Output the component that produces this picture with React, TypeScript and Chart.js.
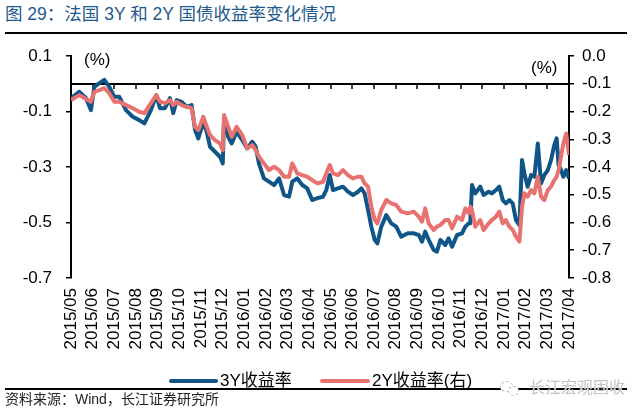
import React, { useEffect, useRef } from "react";
import { Chart, registerables } from "chart.js";

Chart.register(...registerables);

// Month tick labels (x axis)
const monthLabels = [
  "2015/05", "2015/06", "2015/07", "2015/08", "2015/09", "2015/10",
  "2015/11", "2015/12", "2016/01", "2016/02", "2016/03", "2016/04",
  "2016/05", "2016/06", "2016/07", "2016/08", "2016/09", "2016/10",
  "2016/11", "2016/12", "2017/01", "2017/02", "2017/03", "2017/04",
];

// Observation time, in months since 2015/05
const monthPos = [
  0, 0.38, 0.54, 0.69, 0.92, 1.08, 1.31, 1.54, 1.77, 2.0,
  2.23, 2.54, 2.85, 3.15, 3.39, 3.69, 3.94, 4.11, 4.34, 4.57,
  4.72, 4.88, 5.11, 5.34, 5.57, 5.73, 5.88, 6.11, 6.27, 6.42,
  6.65, 6.88, 7.01, 7.07, 7.26, 7.42, 7.65, 7.91, 8.14, 8.37,
  8.53, 8.68, 8.91, 9.14, 9.38, 9.61, 9.84, 10.07, 10.22, 10.45,
  10.68, 10.91, 11.14, 11.38, 11.64, 11.79, 11.95, 12.1, 12.33, 12.56,
  12.79, 13.02, 13.26, 13.41, 13.56, 13.72, 13.87, 14.03, 14.15, 14.33,
  14.56, 14.79, 15.02, 15.25, 15.56, 15.83, 16.06, 16.21, 16.36, 16.52,
  16.75, 16.9, 17.06, 17.29, 17.44, 17.6, 17.83, 18.06, 18.21, 18.37,
  18.44, 18.52, 18.67, 18.9, 19.06, 19.29, 19.44, 19.63, 19.78, 19.94,
  20.09, 20.24, 20.4, 20.55, 20.71, 20.83, 20.94, 21.09, 21.25, 21.4,
  21.56, 21.71, 21.86, 22.02, 22.17, 22.32, 22.43, 22.52, 22.63, 22.74,
  22.87, 22.94, 23.0,
];

// France 3Y government bond yield (%), left axis
const yield3Y = [
  -0.052, -0.029, -0.041, -0.051, -0.095, -0.011, 0.002, 0.014, -0.011, -0.047,
  -0.047, -0.095, -0.119, -0.131, -0.143, -0.095, -0.041, -0.088, -0.088, -0.052,
  -0.106, -0.059, -0.065, -0.083, -0.077, -0.167, -0.197, -0.137, -0.173, -0.227,
  -0.245, -0.263, -0.287, -0.119, -0.191, -0.215, -0.173, -0.203, -0.233, -0.209,
  -0.227, -0.287, -0.341, -0.353, -0.365, -0.341, -0.401, -0.407, -0.353, -0.341,
  -0.365, -0.377, -0.419, -0.412, -0.407, -0.383, -0.329, -0.383, -0.377, -0.371,
  -0.389, -0.401, -0.389, -0.377, -0.395, -0.455, -0.515, -0.563, -0.575, -0.515,
  -0.473, -0.503, -0.515, -0.551, -0.539, -0.539, -0.545, -0.569, -0.533, -0.563,
  -0.599, -0.605, -0.563, -0.581, -0.557, -0.587, -0.545, -0.539, -0.515, -0.503,
  -0.503, -0.365, -0.395, -0.371, -0.401, -0.389, -0.395, -0.383, -0.371, -0.419,
  -0.431, -0.419, -0.431, -0.491, -0.509, -0.275, -0.323, -0.371, -0.329, -0.335,
  -0.215, -0.359, -0.329, -0.311, -0.275, -0.221, -0.197, -0.293, -0.311, -0.335,
  -0.311, -0.329, -0.341,
];

// France 2Y government bond yield (%), right axis
const yield2Y = [
  -0.159, -0.141, -0.148, -0.155, -0.165, -0.129, -0.123, -0.116, -0.134, -0.165,
  -0.165, -0.177, -0.188, -0.201, -0.206, -0.17, -0.141, -0.165, -0.17, -0.159,
  -0.177, -0.165, -0.177, -0.183, -0.188, -0.255, -0.267, -0.219, -0.255, -0.285,
  -0.303, -0.315, -0.339, -0.213, -0.255, -0.291, -0.255, -0.285, -0.333, -0.321,
  -0.339, -0.363, -0.387, -0.411, -0.399, -0.411, -0.435, -0.435, -0.387, -0.423,
  -0.429, -0.435, -0.447, -0.459, -0.453, -0.423, -0.393, -0.423, -0.429, -0.411,
  -0.429, -0.441, -0.435, -0.435, -0.459, -0.471, -0.543, -0.591, -0.603, -0.555,
  -0.519, -0.531, -0.537, -0.561, -0.567, -0.561, -0.579, -0.597, -0.549, -0.603,
  -0.627, -0.615, -0.609, -0.591, -0.591, -0.621, -0.579, -0.591, -0.549, -0.567,
  -0.543, -0.555, -0.615, -0.591, -0.627, -0.603, -0.591, -0.579, -0.561, -0.603,
  -0.591, -0.615, -0.627, -0.651, -0.669, -0.543, -0.495, -0.507, -0.483, -0.495,
  -0.435, -0.507, -0.519, -0.483, -0.471, -0.447, -0.435, -0.411, -0.363, -0.315,
  -0.279, -0.321, -0.357,
];

const seriesNames = ["3Y收益率", "2Y收益率(右)"];
const leftTicks = { min: -0.7, max: 0.1, step: 0.2 };
const rightTicks = { min: -0.8, max: 0.0, step: 0.1 };

const BLUE = "#0f5587";
const PINK = "#e8726f";
const FONT = '"Liberation Sans", Arial, "Noto Sans CJK SC", sans-serif';

const fmt = (v: number) => (Math.abs(v) < 1e-9 ? 0 : v).toFixed(1);

export default function App() {
  const ref = useRef<HTMLCanvasElement>(null);

  useEffect(() => {
    if (!ref.current) return;
    const zeroLine = {
      id: "zeroLine",
      beforeDatasetsDraw(chart: any) {
        const { ctx, chartArea, scales } = chart;
        const y = Math.round(scales.y.getPixelForValue(0));
        ctx.save();
        ctx.strokeStyle = "#000";
        ctx.lineWidth = 2;
        ctx.beginPath();
        ctx.moveTo(chartArea.left, y);
        ctx.lineTo(chartArea.right, y);
        ctx.stroke();
        ctx.lineWidth = 1.5;
        ctx.beginPath();
        for (let i = 0; i < monthLabels.length; i++) {
          const x = Math.round(scales.x.getPixelForValue(i));
          ctx.moveTo(x, y);
          ctx.lineTo(x, y + 5);
        }
        ctx.stroke();
        ctx.restore();
      },
    };

    const chart = new Chart(ref.current, {
      type: "line",
      data: {
        datasets: [
          {
            label: seriesNames[0],
            data: monthPos.map((m, i) => ({ x: m, y: yield3Y[i] })),
            borderColor: BLUE,
            backgroundColor: BLUE,
            borderWidth: 4,
            pointRadius: 0,
            tension: 0,
            yAxisID: "y",
            order: 1,
            borderJoinStyle: "round",
          },
          {
            label: seriesNames[1],
            data: monthPos.map((m, i) => ({ x: m, y: yield2Y[i] })),
            borderColor: PINK,
            backgroundColor: PINK,
            borderWidth: 4,
            pointRadius: 0,
            tension: 0,
            yAxisID: "y1",
            order: 0,
            borderJoinStyle: "round",
          },
        ],
      },
      options: {
        animation: false,
        responsive: false,
        maintainAspectRatio: false,
        devicePixelRatio: 1,
        layout: { padding: { top: 56, left: 0, right: 0, bottom: 0 } },
        plugins: { legend: { display: false }, tooltip: { enabled: false } },
        scales: {
          x: {
            type: "linear",
            min: 0,
            max: monthLabels.length - 1,
            afterFit: (s: any) => {
              s.height = 134;
            },
            grid: { display: false, drawTicks: false },
            border: { display: false },
            ticks: {
              stepSize: 1,
              autoSkip: false,
              minRotation: 90,
              maxRotation: 90,
              padding: 10,
              color: "#000",
              font: { size: 17, family: FONT },
              callback: (v: any) => monthLabels[Math.round(Number(v))] ?? "",
            },
          },
          y: {
            position: "left",
            min: leftTicks.min,
            max: leftTicks.max,
            afterFit: (s: any) => {
              s.width = 71;
            },
            grid: { drawOnChartArea: false, tickLength: 5, color: "#000", lineWidth: 1.5 },
            border: { color: "#000", width: 2 },
            ticks: {
              stepSize: leftTicks.step,
              padding: 14,
              color: "#000",
              font: { size: 17, family: FONT },
              callback: (v: any) => fmt(Number(v)),
            },
          },
          y1: {
            position: "right",
            min: rightTicks.min,
            max: rightTicks.max,
            afterFit: (s: any) => {
              s.width = 64;
            },
            grid: { drawOnChartArea: false, tickLength: 5, color: "#000", lineWidth: 1.5 },
            border: { color: "#000", width: 2 },
            ticks: {
              stepSize: rightTicks.step,
              padding: 8,
              color: "#000",
              font: { size: 17, family: FONT },
              callback: (v: any) => fmt(Number(v)),
            },
          },
        },
      },
      plugins: [zeroLine],
    } as any);
    return () => chart.destroy();
  }, []);

  const abs = (s: React.CSSProperties): React.CSSProperties => ({
    position: "absolute",
    whiteSpace: "nowrap",
    ...s,
  });

  return (
    <div
      style={{
        position: "absolute",
        left: 0,
        top: 0,
        width: 633,
        height: 412,
        background: "#fff",
        fontFamily: FONT,
        overflow: "hidden",
      }}
    >
      <div style={abs({ left: 5, top: 3, fontSize: 17.5, lineHeight: "22px", color: "#1f5a8c" })}>
        图 29：法国 3Y 和 2Y 国债收益率变化情况
      </div>
      <div style={abs({ left: 5, top: 32, width: 622, height: 2, background: "#000" })} />
      <canvas ref={ref} width={633} height={412} style={{ position: "absolute", left: 0, top: 0, display: "block" }} />
      <div style={abs({ left: 84, top: 50, fontSize: 17, lineHeight: "20px", color: "#000" })}>(%)</div>
      <div style={abs({ left: 531, top: 58, fontSize: 17, lineHeight: "20px", color: "#000" })}>(%)</div>

      <div style={abs({ left: 169, top: 379, width: 49, height: 4, borderRadius: 2, background: BLUE })} />
      <div style={abs({ left: 220, top: 371, fontSize: 17, lineHeight: "20px", color: "#000" })}>{seriesNames[0]}</div>
      <div style={abs({ left: 320, top: 379, width: 50, height: 4, borderRadius: 2, background: PINK })} />
      <div style={abs({ left: 372, top: 371, fontSize: 17, lineHeight: "20px", color: "#000" })}>{seriesNames[1]}</div>

      <div style={abs({ left: 5, top: 388, width: 622, height: 1.5, background: "#000" })} />
      <div style={abs({ left: 500, top: 381, width: 11, height: 9, borderRadius: "50%", border: "1px dashed #bbb", background: "#fff" })} />
      <div style={abs({ left: 508, top: 386, width: 9, height: 8, borderRadius: "50%", border: "1px dashed #bbb", background: "#fff" })} />
      <div style={abs({ left: 529, top: 379, fontSize: 16, lineHeight: "18px", color: "#c4c4c4", textShadow: "0 0 1px #fff" })}>长江宏观固收</div>
      <div style={abs({ left: 5, top: 390, fontSize: 14, lineHeight: "18px", color: "#222" })}>
        资料来源：Wind，长江证券研究所
      </div>
    </div>
  );
}
